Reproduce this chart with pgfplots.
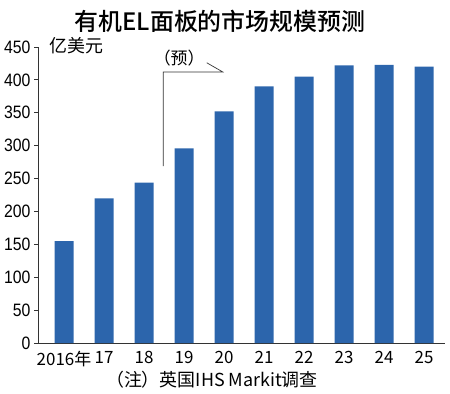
\documentclass[border=0pt]{standalone}
\usepackage{fontspec}
\setmainfont{Noto Sans CJK SC}
\newfontfamily\titlefont{Noto Sans CJK SC Medium}
\newfontfamily\numfont{Liberation Sans}[FakeStretch=0.88]
\usepackage{pgfplots}
\pgfplotsset{compat=1.18}
\definecolor{barblue}{HTML}{2C65AC}
\begin{document}
\begin{tikzpicture}[x=1bp,y=1bp]
\useasboundingbox (-38,-50) rectangle (412,343);
\begin{axis}[
  at={(0,0)}, anchor=south west,
  scale only axis, width=407bp, height=296bp,
  xmin=-0.65, xmax=9.525, ymin=0, ymax=450,
  axis x line=bottom, axis y line=left,
  axis line style={-, line width=0.8pt, black!80},
  ytick={0,50,...,450},
  xtick={0,...,9},
  xticklabels={2016年,17,18,19,20,21,22,23,24,25},
  x tick label style={font=\fontsize{17}{17}\selectfont, yshift=-1bp},
  y tick label style={font=\numfont\fontsize{18}{18}\selectfont},
  /pgf/number format/assume math mode=true,
  /pgf/number format/1000 sep={},
  major x tick style={draw=none},
  major y tick style={line width=0.8pt, black!80},
  tick align=outside, major tick length=4bp,
  ybar, bar width=0.475,
  clip=false,
]
\addplot[fill=barblue, draw=none] coordinates {
  (0,155) (1,220) (2,244) (3,296) (4,352) (5,390) (6,405) (7,422) (8,423) (9,420)};
\draw[black!80, line width=0.7pt] (axis cs:2.48,269) -- (axis cs:2.48,412) -- (axis cs:3.97,412) -- (axis cs:3.57,426);
\node[anchor=base, font=\fontsize{17}{17}\selectfont] at (axis cs:2.88,423) {（预）};
\end{axis}
\node[font=\titlefont\fontsize{24}{24}\selectfont] at (182,322) {有机EL面板的市场规模预测};
\node[anchor=west, font=\fontsize{18}{18}\selectfont, inner sep=0pt] at (11,297) {亿美元};
\node[font=\fontsize{18}{18}\selectfont] at (174,-37) {（注）英国IHS Markit调查};
\end{tikzpicture}
\end{document}
